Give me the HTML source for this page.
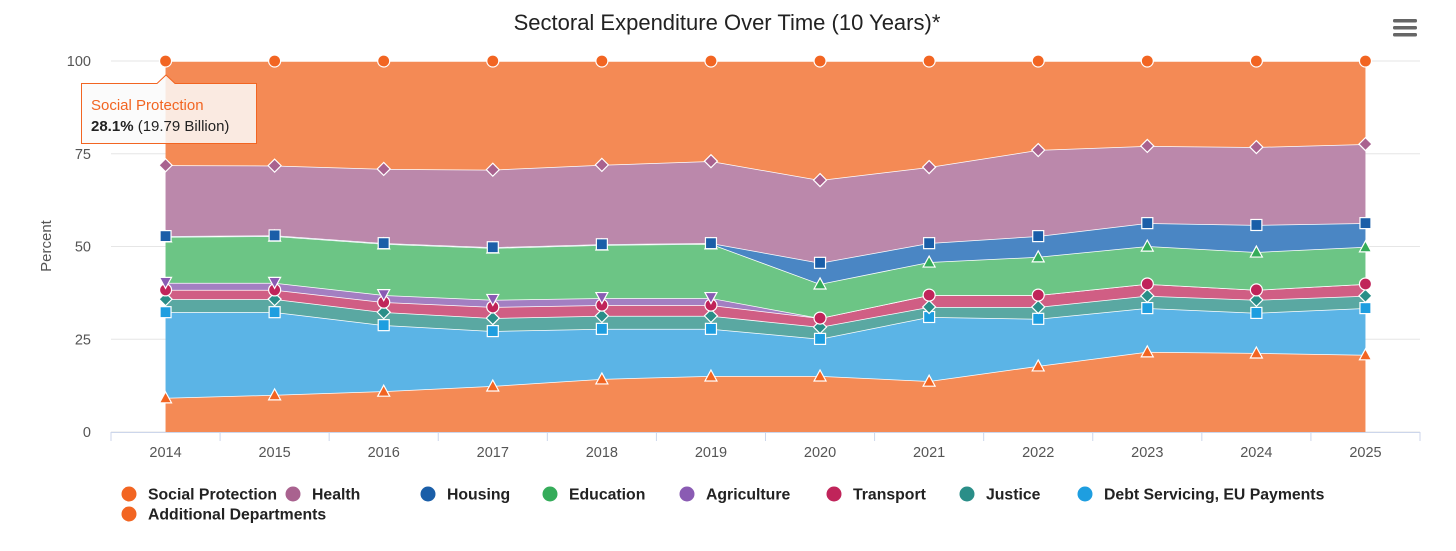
<!DOCTYPE html>
<html><head><meta charset="utf-8">
<style>
body{margin:0;background:#fff;font-family:"Liberation Sans",Arial,sans-serif;}
#wrap{position:relative;width:1456px;height:551px;overflow:hidden;}
svg text{font-family:"Liberation Sans",Arial,sans-serif;}
</style></head><body>
<div id="wrap">
<svg id="chart" width="1456" height="551">
<text x="727" y="30" text-anchor="middle" font-size="22" fill="#222">Sectoral Expenditure Over Time (10 Years)*</text>
<g>
<rect x="1393" y="19" width="24" height="3.5" rx="1.5" fill="#666"/>
<rect x="1393" y="26" width="24" height="3.5" rx="1.5" fill="#666"/>
<rect x="1393" y="33" width="24" height="3.5" rx="1.5" fill="#666"/>
</g>
<text x="0" y="0" transform="translate(51,246) rotate(-90)" text-anchor="middle" font-size="15" fill="#555">Percent</text>
<g id="grid"></g><g id="areas"></g><g id="axes"></g><g id="markers"></g><g id="legend"></g><g id="tip"></g>
</svg>
</div>
<script>
const years=["2014","2015","2016","2017","2018","2019","2020","2021","2022","2023","2024","2025"];
const yTicks=[0,25,50,75,100];
const additional=[9.2,10,11,12.4,14.3,15.1,15.1,13.7,17.8,21.6,21.3,20.8];
const debt=[23.1,22.3,17.8,14.8,13.5,12.7,10,17.3,12.7,11.8,10.8,12.6];
const justice=[3.5,3.5,3.5,3.5,3.5,3.5,3.2,2.7,3.2,3.3,3.5,3.3];
const transport=[2.5,2.5,2.7,3,2.9,2.9,2.4,3.2,3.2,3.2,2.7,3.2];
const agriculture=[1.9,1.9,1.9,1.9,1.9,1.9,0,0,0,0,0,0];
const education=[12.4,12.6,13.8,14,14.3,14.6,9.2,8.9,10.3,10.2,10.2,10];
const housing=[0.2,0.2,0.2,0.2,0.2,0.2,5.7,5.1,5.6,6.2,7.3,6.4];
const health=[19.1,18.8,20,20.9,21.4,22.1,22.3,20.5,23.2,20.8,21,21.3];
const social=[28.1,28.2,29.1,29.3,28,27,32.1,28.6,24,22.9,23.2,22.4];
const seriesNames=["Additional Departments","Debt Servicing, EU Payments","Justice","Transport","Agriculture","Education","Housing","Health","Social Protection"];
const seriesData=[additional,debt,justice,transport,agriculture,education,housing,health,social];
const fills=["#f48a55","#5bb4e6","#5aa8a2","#d05e84","#a37fc2","#6cc585","#4a86c4","#bb88ab","#f48a55"];
const marks=["#f26522","#1e9ee0","#2a8e88","#c0245a","#8a5bb3","#35ac5a","#1a5ea8","#a9628f","#f26522"];
const shapes=["triangle","square","diamond","circle","triangle-down","triangle","square","diamond","circle"];
const NS="http://www.w3.org/2000/svg";
const L=111,R=1420,T=61,B=432;
const step=(R-L)/years.length;
const xS=i=>L+step*(i+0.5);
const yS=v=>B-(B-T)*v/100;
function mk(tag,attrs,parent){const e=document.createElementNS(NS,tag);for(const k in attrs)e.setAttribute(k,attrs[k]);parent.appendChild(e);return e;}
const grid=document.getElementById('grid'),axes=document.getElementById('axes'),areas=document.getElementById('areas'),mg=document.getElementById('markers'),lg=document.getElementById('legend'),tip=document.getElementById('tip');
yTicks.forEach(t=>{
 const l=mk('line',{x1:L,x2:R,y1:yS(t),y2:yS(t),stroke:'#e6e6e6','stroke-width':1},grid);
 
 
 const tx=mk('text',{x:91,y:yS(t)+5,'text-anchor':'end','font-size':14.5,fill:'#555'},axes);tx.textContent=t;
 
 
});
const ax=mk('line',{x1:L,x2:R,y1:B+0.5,y2:B+0.5,stroke:'#ccd6eb','stroke-width':1},axes);


for(let i=0;i<=years.length;i++){mk('line',{x1:L+step*i,x2:L+step*i,y1:B,y2:B+9,stroke:'#ccd6eb'},axes);}
years.forEach((y,i)=>{const t=mk('text',{x:xS(i),y:457,'text-anchor':'middle','font-size':14.5,fill:'#555'},axes);t.textContent=y;
 
 });
const cum=[];let base=years.map(()=>0);
seriesData.forEach((s,k)=>{const top=s.map((v,i)=>base[i]+v);cum.push({lo:base,hi:top});base=top;});
cum.forEach((c,k)=>{
 let d='M'+c.hi.map((v,i)=>xS(i)+','+yS(v)).join(' L');
 d+=' L'+c.lo.map((v,i)=>xS(i)+','+yS(v)).reverse().join(' L')+' Z';
 const p=mk('path',{d:d,fill:fills[k],stroke:'none'},areas);
 
 
 const ln=mk('polyline',{points:c.hi.map((v,i)=>xS(i)+','+yS(v)).join(' '),fill:'none',stroke:'#fff','stroke-width':1.5},areas);
 
 
});
function shape(type,x,y,col,parent,r){
 r=r||5.5;let e;
 if(type==='circle')e=mk('circle',{cx:x,cy:y,r:r+0.5},parent);
 else if(type==='square')e=mk('rect',{x:x-r,y:y-r,width:2*r,height:2*r},parent);
 else if(type==='diamond')e=mk('path',{d:`M${x},${y-r-1} L${x+r+1},${y} L${x},${y+r+1} L${x-r-1},${y} Z`},parent);
 else if(type==='triangle')e=mk('path',{d:`M${x},${y-r-0.5} L${x+r+0.5},${y+r-0.5} L${x-r-0.5},${y+r-0.5} Z`},parent);
 else e=mk('path',{d:`M${x},${y+r} L${x+r+0.5},${y-r} L${x-r-0.5},${y-r} Z`},parent);
 e.setAttribute('fill',col);e.setAttribute('stroke','#fff');e.setAttribute('stroke-width',1.2);return e;
}
cum.forEach((c,k)=>{
 c.hi.forEach((v,i)=>{
  if(seriesData[k][i]<=0)return;
  const e=shape(shapes[k],xS(i),yS(v),marks[k],mg);
  
  
 });
});
const leg=[["Social Protection",129,494,"#f26522"],["Health",293,494,"#a9628f"],["Housing",428,494,"#1a5ea8"],["Education",550,494,"#35ac5a"],["Agriculture",687,494,"#8a5bb3"],["Transport",834,494,"#c0245a"],["Justice",967,494,"#2a8e88"],["Debt Servicing, EU Payments",1085,494,"#1e9ee0"],["Additional Departments",129,514,"#f26522"]];
leg.forEach(l=>{
 const g=mk('g',{},lg);
 
 
 mk('circle',{cx:l[1],cy:l[2],r:7.5,fill:l[3]},g);
 const t=mk('text',{x:l[1]+19,y:l[2]+5.5,'font-size':15.8,'font-weight':'bold',fill:'#222'},g);t.textContent=l[0];
});
const tg=mk('g',{},tip);


mk('path',{d:'M81.5,83.5 L157,83.5 L166,75 L175,83.5 L256.5,83.5 L256.5,143.5 L81.5,143.5 Z',fill:'rgba(250,250,250,0.85)',stroke:'#f26522','stroke-width':1},tg);
const t1=mk('text',{x:91,y:110,'font-size':15,fill:'#f26522'},tg);t1.textContent='Social Protection';
const t2=mk('text',{x:91,y:131,'font-size':15,fill:'#222'},tg);
t2.innerHTML='<tspan font-weight="bold">28.1%</tspan> (19.79 Billion)';
</script>
</body></html>
